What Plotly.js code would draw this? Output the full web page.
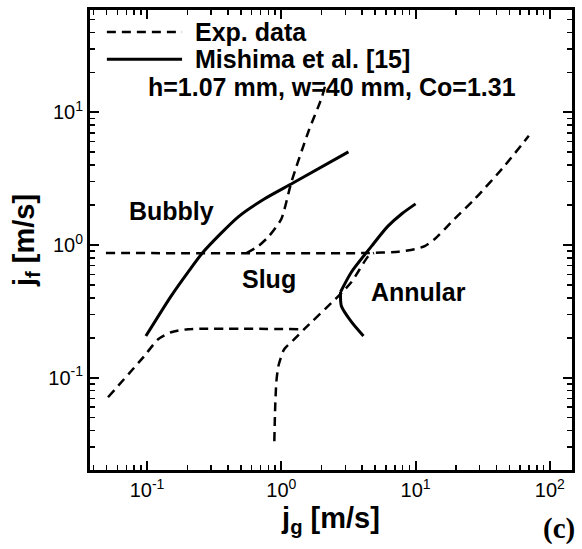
<!DOCTYPE html>
<html>
<head>
<meta charset="utf-8">
<script src="https://cdn.plot.ly/plotly-3.0.1.min.js"></script>
<style>html,body{margin:0;padding:0;background:#fff;}#chart{width:582px;height:549px;}</style>
</head>
<body>
<div id="chart"></div>
<script>
// Exp. data (dashed) segments
var exp1_x = [0.0494, 4.5, 7.5, 9.8, 11.7, 13.9, 19.5, 27.6, 46.1, 69.7];
var exp1_y = [0.87, 0.87, 0.89, 0.93, 0.98, 1.11, 1.57, 2.22, 3.95, 6.65];
var exp2_x = [0.55, 0.673, 0.80, 1.0, 1.19, 1.59, 1.99, 2.12];
var exp2_y = [0.87, 0.98, 1.15, 1.57, 2.99, 7.13, 12.7, 15.8];
var exp3_x = [0.0512, 0.095, 0.121, 0.151, 0.202, 1.41];
var exp3_y = [0.0713, 0.145, 0.195, 0.22, 0.232, 0.232];
var exp4_x = [0.887, 0.90, 0.918, 0.95, 1.05, 1.25, 1.48, 2.66, 3.33, 4.46, 4.9];
var exp4_y = [0.0332, 0.06, 0.0925, 0.122, 0.164, 0.195, 0.232, 0.412, 0.526, 0.826, 0.87];
// Mishima et al. [15] (solid)
var mish1_x = [0.098, 0.151, 0.202, 0.262, 0.478, 0.746, 1.23, 3.16];
var mish1_y = [0.206, 0.412, 0.625, 0.885, 1.63, 2.22, 2.94, 5.03];
var mish2up_x = [10, 7.9, 6.2, 4.7, 3.33, 2.76];
var mish2up_y = [2.04, 1.72, 1.38, 0.98, 0.626, 0.442];
var mish2lo_x = [2.76, 2.8, 3.33, 4.09];
var mish2lo_y = [0.442, 0.347, 0.263, 0.206];
// labels
var legendNames = ["Exp. data", "Mishima et al. [15]"];
var conditionText = "h=1.07 mm, w=40 mm, Co=1.31";
var regimeNames = ["Bubbly", "Slug", "Annular"];
var xTickVals = [0.1, 1, 10, 100];
var xTickText = ["10<sup>-1</sup>", "10<sup>0</sup>", "10<sup>1</sup>", "10<sup>2</sup>"];
var yTickVals = [0.1, 1, 10];
var yTickText = ["10<sup>-1</sup>", "10<sup>0</sup>", "10<sup>1</sup>"];

function minorVals(lo, hi) {
  var v = [];
  for (var e = lo; e <= hi; e++) for (var m = 2; m <= 9; m++) v.push(m * Math.pow(10, e));
  return v;
}

var dashStyle = {color: "#000", width: 2.5, dash: "9px,6px", shape: "spline", smoothing: 0.6};
var solidStyle = {color: "#000", width: 3, shape: "spline", smoothing: 0.7};
function tr(x, y, line) {
  return {x: x, y: y, type: "scatter", mode: "lines", line: line, showlegend: false, hoverinfo: "skip"};
}
var data = [
  tr(exp1_x, exp1_y, dashStyle), tr(exp2_x, exp2_y, dashStyle),
  tr(exp3_x, exp3_y, dashStyle), tr(exp4_x, exp4_y, dashStyle),
  tr(mish1_x, mish1_y, solidStyle), tr(mish2up_x, mish2up_y, solidStyle),
  tr(mish2lo_x, mish2lo_y, solidStyle)
];

var FAM = "Liberation Sans, Arial, Helvetica, sans-serif";
var tickFont = {family: FAM, size: 20, color: "#000"};
var boldFont = {family: FAM, size: 25, color: "#000", weight: "bold"};
var regimeFont = {family: FAM, size: 25, color: "#000", weight: "bold"};
var axisCommon = {
  type: "log", showgrid: false, zeroline: false,
  showline: true, linewidth: 3, linecolor: "#000", mirror: "allticks",
  ticks: "inside", ticklen: 9, tickwidth: 2, tickcolor: "#000",
  tickmode: "array", tickfont: tickFont
};
var layout = {
  width: 582, height: 549,
  margin: {l: 90, r: 10, t: 10, b: 79},
  paper_bgcolor: "#fff", plot_bgcolor: "#fff",
  xaxis: Object.assign({}, axisCommon, {
    range: [-1.425, 2.165], tickvals: xTickVals, ticktext: xTickText,
    minor: {tickmode: "array", tickvals: minorVals(-2, 2), ticks: "inside", ticklen: 5, tickwidth: 1.5, tickcolor: "#000"},
    title: {text: "j<sub>g</sub> [m/s]", font: {family: FAM, size: 29, color: "#000", weight: "bold"}, standoff: 8}
  }),
  yaxis: Object.assign({}, axisCommon, {
    range: [-1.695, 1.77], tickvals: yTickVals, ticktext: yTickText,
    minor: {tickmode: "array", tickvals: minorVals(-2, 1), ticks: "inside", ticklen: 5, tickwidth: 1.5, tickcolor: "#000"},
    title: {text: "j<sub>f</sub> [m/s]", font: {family: FAM, size: 29, color: "#000", weight: "bold"}, standoff: 6}
  }),
  shapes: [
    {type: "line", xref: "paper", yref: "paper", x0: 0.035, x1: 0.191, y0: 0.952, y1: 0.952, line: {color: "#000", width: 2.5, dash: "9px,6px"}},
    {type: "line", xref: "paper", yref: "paper", x0: 0.035, x1: 0.191, y0: 0.893, y1: 0.893, line: {color: "#000", width: 3}}
  ],
  annotations: [
    {xref: "paper", yref: "paper", x: 0.214, y: 0.952, xanchor: "left", yanchor: "middle", text: legendNames[0], showarrow: false, font: boldFont},
    {xref: "paper", yref: "paper", x: 0.214, y: 0.893, xanchor: "left", yanchor: "middle", text: legendNames[1], showarrow: false, font: boldFont},
    {xref: "paper", yref: "paper", x: 0.117, y: 0.833, xanchor: "left", yanchor: "middle", text: conditionText, showarrow: false, font: boldFont},
    {xref: "x", yref: "y", x: -0.821, y: 0.257, text: regimeNames[0], showarrow: false, font: regimeFont},
    {xref: "x", yref: "y", x: -0.09, y: -0.257, text: regimeNames[1], showarrow: false, font: regimeFont},
    {xref: "x", yref: "y", x: 1.022, y: -0.355, text: regimeNames[2], showarrow: false, font: regimeFont},
    {xref: "paper", yref: "paper", x: 1.0, y: -0.128, xanchor: "center", yanchor: "middle", text: "(c)", showarrow: false, xshift: -13,
     font: {family: "Liberation Serif, Times New Roman, serif", size: 29, color: "#000", weight: "bold"}}
  ]
};
Plotly.newPlot("chart", data, layout, {displayModeBar: false, staticPlot: true});
</script>
</body>
</html>
